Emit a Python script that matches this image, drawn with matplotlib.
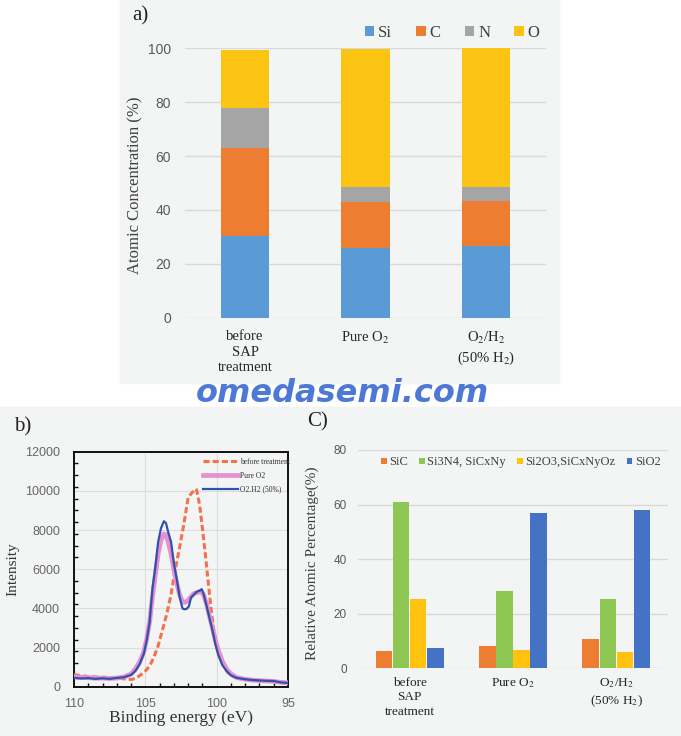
import numpy as np
import matplotlib
matplotlib.use('Agg')
import matplotlib.pyplot as plt
from matplotlib.patches import Rectangle
from matplotlib.ticker import MultipleLocator

plt.rcParams['font.family'] = ['Liberation Serif', 'DejaVu Serif']
plt.rcParams['mathtext.fontset'] = 'stix'

# panel a - atomic concentration
cats = ['before\nSAP\ntreatment', r'Pure O$_\mathrm{2}$', 'O$_\mathrm{2}$/H$_\mathrm{2}$\n(50% H$_\mathrm{2}$)']
elements = ['Si', 'C', 'N', 'O']
si = [30.4, 25.9, 26.6]
c = [32.6, 17.1, 16.8]
n = [14.9, 5.7, 5.2]
o = [21.4, 51.2, 51.4]
elem_colors = ['#5b9bd5', '#ed7d31', '#a5a5a5', '#fbc312']

# panel b - Si2p spectra (binding energy eV, intensity)
e_before = [110, 109.5, 109, 108.5, 108, 107.5, 107, 106.5, 106.2, 105.9, 105.6, 105.3, 105.0,
            104.7, 104.4, 104.1, 103.8, 103.5, 103.2, 102.9, 102.6, 102.3, 102.0, 101.8, 101.6,
            101.5, 101.4, 101.2, 101.0, 100.8, 100.6, 100.4, 100.2, 100.0, 99.8, 99.5, 99.2,
            98.8, 98.3, 97.5, 97, 96.5, 96, 95.5, 95]
i_before = [620, 560, 520, 500, 480, 470, 450, 400, 370, 380, 460, 620, 800,
            1050, 1500, 2100, 2900, 3700, 4700, 6000, 7100, 8300, 9650, 9850, 10000,
            10100, 10050, 9300, 8100, 6800, 5400, 4000, 2900, 2050, 1500, 1050, 700,
            500, 400, 330, 310, 300, 280, 220, 190]
e_treat = [110, 109.5, 109, 108.5, 108, 107.5, 107, 106.5, 106, 105.7, 105.4, 105.1, 104.9,
           104.7, 104.5, 104.3, 104.1, 103.9, 103.7, 103.55, 103.4, 103.2, 103.0, 102.8, 102.6,
           102.4, 102.25, 102.1, 101.95, 101.8, 101.6, 101.4, 101.2, 101.05, 100.9, 100.7, 100.5,
           100.3, 100.1, 99.9, 99.6, 99.3, 99.0, 98.6, 98.0, 97.5, 97, 96.5, 96, 95.5, 95]
i_pure = [500, 480, 460, 430, 440, 420, 440, 500, 650, 900, 1250, 1800, 2450,
          3300, 4600, 5700, 6800, 7500, 7800, 7750, 7400, 6800, 6000, 5300, 4700,
          4350, 4300, 4350, 4450, 4600, 4750, 4800, 4850, 4850, 4650, 4200, 3600,
          3000, 2400, 1900, 1300, 900, 650, 470, 380, 340, 310, 290, 270, 220, 200]
i_o2h2 = [450, 420, 440, 400, 430, 400, 450, 480, 600, 800, 1150, 1700, 2380,
          3300, 5000, 6100, 7400, 8100, 8450, 8350, 7900, 7400, 6300, 5500, 4600,
          4000, 3950, 3980, 4100, 4550, 4700, 4850, 4900, 4980, 4700, 4100, 3500,
          2900, 2200, 1650, 1100, 800, 580, 450, 380, 340, 320, 300, 290, 220, 190]

# panel c - relative atomic percentage
species = ['SiC', 'Si3N4, SiCxNy', 'Si2O3,SiCxNyOz', 'SiO2']
sic = [6.4, 8.2, 10.9]
si3n4 = [61.1, 28.4, 25.4]
si2o3 = [25.4, 6.7, 6.1]
sio2 = [7.3, 56.8, 58.1]
spec_colors = ['#ed7d31', '#8dc653', '#ffc20e', '#4472c4']

W, H = 681, 736
fig = plt.figure(figsize=(W / 100, H / 100), dpi=100)
fig.patch.set_facecolor('white')

def fx(px):
    return px / W

def fy(py):
    return 1 - py / H

# panel backgrounds
fig.patches.append(Rectangle((fx(120), fy(383)), fx(559) - fx(120), fy(0) - fy(383),
                             transform=fig.transFigure, color='#f3f4f4', zorder=-5))
fig.patches.append(Rectangle((0, 0), 1, fy(407), transform=fig.transFigure,
                             color='#f3f4f4', zorder=-5))

grid_c = '#d9d9d9'
serif = 'Liberation Serif'

# ---- a) ----
ax1 = fig.add_axes([fx(185), fy(317.7), fx(546) - fx(185), fy(48.3) - fy(317.7)])
ax1.set_facecolor('none')
x = np.arange(len(cats))
bottom = np.zeros(3)
for vals, lab, col in zip([si, c, n, o], elements, elem_colors):
    ax1.bar(x, vals, 0.4, bottom=bottom, color=col, label=lab, zorder=3)
    bottom += np.array(vals)
ax1.set_xlim(-0.5, 2.5)
ax1.set_ylim(0, 100)
ax1.set_yticks(range(0, 101, 20))
ax1.yaxis.grid(True, color=grid_c, lw=1)
ax1.set_axisbelow(True)
for s in ax1.spines.values():
    s.set_visible(False)
ax1.tick_params(length=0)
ax1.tick_params(axis='y', labelsize=10, labelcolor='#595959', pad=10)
for t in ax1.get_yticklabels():
    t.set_family('Liberation Sans')
ax1.set_xticks(x)
ax1.set_xticklabels(cats, fontsize=10.5, color='#262626', linespacing=1.25)
ax1.tick_params(axis='x', pad=9)
ax1.legend(loc='lower right', bbox_to_anchor=(1.01, 0.99), ncol=4, frameon=False,
           prop={'family': serif, 'size': 12}, handlelength=0.55, handleheight=0.55,
           handletextpad=0.25, columnspacing=1.45, borderpad=0.1, labelcolor='#404040')
fig.text(fx(135), fy(185), 'Atomic Concentration (%)', rotation=90, ha='center', va='center',
         fontsize=12, color='#404040')
fig.text(fx(132), fy(16), 'a)', fontsize=15, va='center', ha='left', color='#222222')

# ---- b) ----
ax2 = fig.add_axes([fx(74), fy(686.7), fx(288) - fx(74), fy(451.7) - fy(686.7)])
ax2.set_facecolor('none')
ax2.plot(e_before, i_before, color='#f4714c', lw=2.2, ls=(0, (2, 1)), label='before treatment', zorder=3)
ax2.plot(e_treat, i_pure, color='#e690d2', lw=3.4, label='Pure O2', zorder=4)
ax2.plot(e_treat, i_o2h2, color='#2f52aa', lw=1.6, label='O2.H2 (50%)', zorder=5)
ax2.set_xlim(110, 95)
ax2.set_ylim(0, 12000)
ax2.set_xticks([110, 105, 100, 95])
ax2.set_yticks(range(0, 12001, 2000))
ax2.xaxis.set_minor_locator(MultipleLocator(1))
ax2.yaxis.set_minor_locator(MultipleLocator(600))
ax2.grid(True, which='major', color='#dddddd', lw=0.8)
ax2.set_axisbelow(True)
for s in ax2.spines.values():
    s.set_linewidth(1.4)
    s.set_color('#111111')
ax2.tick_params(which='major', length=0, labelsize=9, labelcolor='#666666')
ax2.tick_params(which='minor', direction='in', length=3, width=1, color='#111111')
ax2.tick_params(axis='x', pad=8)
ax2.tick_params(axis='y', pad=10)
for t in ax2.get_xticklabels() + ax2.get_yticklabels():
    t.set_family('Liberation Sans')
ax2.set_xlabel('Binding energy (eV)', fontsize=12.5, color='#333333', labelpad=0)
ax2.set_ylabel('Intensity', fontsize=11, color='#333333', labelpad=4)
ax2.legend(loc='upper right', bbox_to_anchor=(1.04, 1.0), frameon=False,
           prop={'family': serif, 'size': 5.5}, handlelength=4.6, handletextpad=0.35,
           labelspacing=0.75, borderpad=0.3, labelcolor='#333333')
fig.text(fx(14), fy(427), 'b)', fontsize=15, va='center', ha='left', color='#222222')

# ---- c) ----
ax3 = fig.add_axes([fx(358), fy(668.3), fx(668) - fx(358), fy(450) - fy(668.3)])
ax3.set_facecolor('none')
bw = 0.165
for k, (vals, lab, col) in enumerate(zip([sic, si3n4, si2o3, sio2], species, spec_colors)):
    ax3.bar(x + (k - 1.5) * bw, vals, bw * 0.97, color=col, label=lab, zorder=3)
ax3.set_xlim(-0.5, 2.5)
ax3.set_ylim(0, 80)
ax3.set_yticks(range(0, 81, 20))
ax3.yaxis.grid(True, color=grid_c, lw=1)
ax3.set_axisbelow(True)
for s in ax3.spines.values():
    s.set_visible(False)
ax3.tick_params(length=0)
ax3.tick_params(axis='y', labelsize=8.5, labelcolor='#595959', pad=8)
for t in ax3.get_yticklabels():
    t.set_family('Liberation Sans')
ax3.set_xticks(x)
ax3.set_xticklabels(cats, fontsize=9.5, color='#262626', linespacing=1.3)
ax3.tick_params(axis='x', pad=6)
ax3.legend(loc='upper center', bbox_to_anchor=(0.525, 1.005), ncol=4, frameon=False,
           prop={'family': serif, 'size': 9}, handlelength=0.45, handleheight=0.45,
           handletextpad=0.2, columnspacing=0.9, borderpad=0.1, labelcolor='#404040')
fig.text(fx(312), fy(563), 'Relative Atomic Percentage(%)', rotation=90, ha='center', va='center',
         fontsize=11, color='#404040')
fig.text(fx(307), fy(422), 'C)', fontsize=15, va='center', ha='left', color='#222222')

# watermark
fig.text(fx(342), fy(394), 'omedasemi.com', fontsize=23, fontweight='heavy', fontstyle='italic',
         family='DejaVu Sans', color='#4d78d6', ha='center', va='center')

fig.savefig('out.png', dpi=100)
